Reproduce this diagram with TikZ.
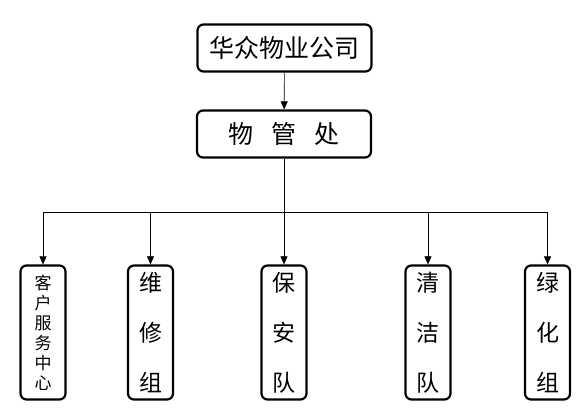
\documentclass[tikz,border=0pt]{standalone}
\usepackage{fontspec}
\setmainfont{Noto Sans CJK SC}
\usetikzlibrary{arrows.meta}

\begin{document}
\begin{tikzpicture}[x=1pt, y=-1pt,
    topbox/.style={draw, line width=2.2pt, rounded corners=6pt, minimum width=174pt, minimum height=47pt, inner sep=0pt},
    unitbox/.style={draw, line width=2.2pt, rounded corners=6pt, minimum width=45pt, minimum height=134pt, inner sep=0pt, align=center},
    arr/.style={-{Triangle[length=8pt,width=7pt]}, line width=.6pt}
    ]
    \useasboundingbox (0,0) rectangle (586,415);
    \node[topbox, font=\fontsize{25}{28}\selectfont] (n1) at (284.5,48) {华众物业公司};
    \node[topbox, font=\fontsize{25}{28}\selectfont] (n2) at (284,134) {物\hspace{18pt}管\hspace{18pt}处};
 \draw [arr](n1) -- (n2);

    \coordinate (j1) at (43,212);
    \coordinate (j2) at (150.5,212);
    \coordinate (j3) at (284,212);
    \coordinate (j4) at (428,212);
    \coordinate (j5) at (547.5,212);

    \node[unitbox, font=\fontsize{17}{20}\selectfont] (m1) at (43,332.5) {客\\户\\服\\务\\中\\心};
    \node[unitbox, font=\fontsize{23}{50}\selectfont] (m2) at (150.5,332.5) {维\\修\\组};
    \node[unitbox, font=\fontsize{23}{50}\selectfont] (m3) at (284,332.5) {保\\安\\队};
    \node[unitbox, font=\fontsize{23}{50}\selectfont] (m4) at (428,332.5) {清\\洁\\队};
    \node[unitbox, font=\fontsize{23}{50}\selectfont] (m5) at (547.5,332.5) {绿\\化\\组};

\draw [line width=.6pt](n2) -- (j3);
\draw [line width=.6pt](j1) -- (j5);
\draw [arr](j1) -- (m1);
\draw [arr](j2) -- (m2);
\draw [arr](j3) -- (m3);
\draw [arr](j4) -- (m4);
\draw [arr](j5) -- (m5);

 \end{tikzpicture}
\end{document}
